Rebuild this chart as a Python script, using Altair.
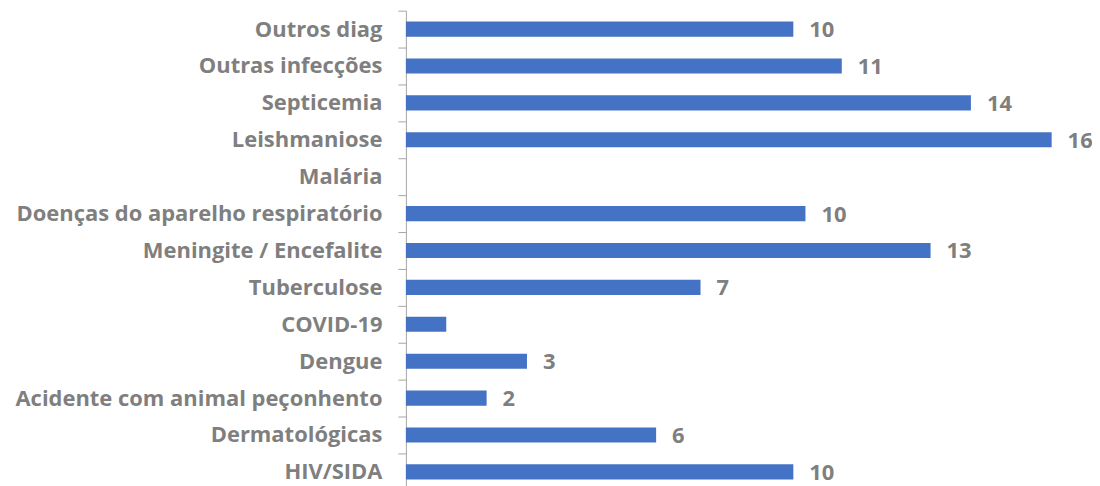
import altair as alt
import pandas as pd

categories = [
    "Outros diag", "Outras infecções", "Septicemia", "Leishmaniose", "Malária",
    "Doenças do aparelho respiratório", "Meningite / Encefalite", "Tuberculose",
    "COVID-19", "Dengue", "Acidente com animal peçonhento", "Dermatológicas", "HIV/SIDA",
]
values = [9.6, 10.8, 14.0, 16.0, 0.0, 9.9, 13.0, 7.3, 1.0, 3.0, 2.0, 6.2, 9.6]
labels = ["10", "11", "14", "16", "", "10", "13", "7", "", "3", "2", "6", "10"]

df = pd.DataFrame({"cat": categories, "val": values, "lab": labels})

FONT = "Open Sans"
GRAY = "#7f7f7f"

y = alt.Y(
    "cat:N", sort=categories, title=None,
    scale=alt.Scale(paddingInner=0, paddingOuter=0),
    axis=alt.Axis(
        tickBand="extent", tickSize=8, labelPadding=16,
        labelFont=FONT, labelFontSize=22, labelFontWeight="bold", labelColor=GRAY,
        domainColor="#a6a6a6", tickColor="#a6a6a6", labelLimit=0,
    ),
)
x = alt.X("val:Q", title=None, scale=alt.Scale(domain=[0, 17], nice=False), axis=None)

bars = alt.Chart(df).mark_bar(color="#4472C4", height={"band": 0.41}).encode(x=x, y=y)
text = alt.Chart(df).mark_text(
    align="left", baseline="middle", dx=16, dy=1,
    font=FONT, fontSize=22, fontWeight="bold", color=GRAY,
).encode(x=x, y=y, text="lab:N")

chart = (bars + text).properties(
    width=688, height=481,
    padding={"left": 399, "top": 2, "right": 0, "bottom": 0},
    autosize=alt.AutoSizeParams(type="none"),
).configure_view(stroke=None).configure_axis(grid=False)

chart.save("out.html", embed_options={"renderer": "svg", "actions": False})
